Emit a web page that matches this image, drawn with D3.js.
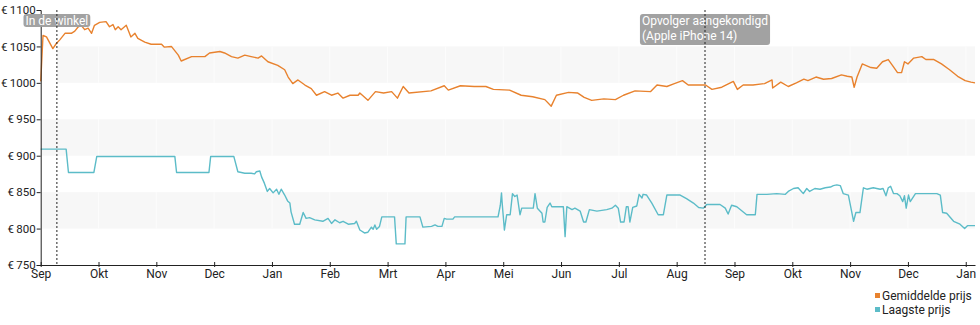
<!DOCTYPE html>
<html>
<head>
<meta charset="utf-8">
<script src="https://cdn.jsdelivr.net/npm/d3@7"></script>
<style>
  html, body { margin: 0; padding: 0; background: #fff; }
  svg { display: block; font-family: Roboto, "Noto Sans", sans-serif; }
</style>
</head>
<body>
<svg id="chart" width="980" height="325"></svg>
<script>
// Month tick labels (equally spaced month units)
const monthLabels = ["Sep","Okt","Nov","Dec","Jan","Feb","Mrt","Apr","Mei","Jun","Jul","Aug","Sep","Okt","Nov","Dec","Jan"];
const yTickValues = [750, 800, 850, 900, 950, 1000, 1050, 1100];
const bandRanges = [[1000, 1050], [900, 950], [800, 850]];

// Gemiddelde prijs: time in months since first Sep, value in euro
const avgT = [0.00,0.04,0.10,0.21,0.27,0.33,0.42,0.53,0.59,0.65,0.70,0.76,0.82,0.88,0.93,1.02,1.13,1.19,1.25,1.29,1.34,1.39,1.48,1.56,1.63,1.68,1.80,1.91,2.09,2.14,2.26,2.38,2.43,2.61,2.72,2.84,2.92,3.10,3.18,3.30,3.41,3.53,3.64,3.76,3.82,3.93,4.10,4.22,4.28,4.36,4.45,4.57,4.68,4.77,4.91,5.03,5.14,5.23,5.35,5.49,5.52,5.66,5.79,5.93,6.07,6.17,6.27,6.37,6.75,6.98,7.05,7.26,7.50,7.70,7.83,8.11,8.31,8.51,8.72,8.83,8.92,9.13,9.29,9.40,9.53,9.74,9.94,10.08,10.28,10.55,10.66,10.83,10.96,11.10,11.20,11.34,11.50,11.61,11.78,11.98,12.05,12.15,12.32,12.52,12.65,12.66,12.80,12.93,13.07,13.20,13.27,13.41,13.54,13.68,13.85,13.95,14.03,14.07,14.12,14.21,14.36,14.46,14.56,14.66,14.75,14.82,14.89,14.94,15.00,15.10,15.24,15.31,15.45,15.58,15.72,15.86,15.99,16.09,16.16];
const avgV = [1002,1065,1063,1047,1054,1059,1068,1068,1071,1077,1079,1073,1075,1068,1079,1083,1084,1077,1080,1073,1077,1073,1079,1063,1068,1061,1056,1053,1053,1049,1050,1038,1030,1036,1036,1036,1041,1043,1041,1036,1034,1038,1036,1034,1037,1029,1024,1018,1008,999,1004,997,992,983,988,983,986,979,983,983,986,976,988,986,988,979,995,986,989,996,990,996,995,995,991,990,983,981,977,968,983,987,986,980,976,978,977,983,989,988,997,995,999,1003,997,997,997,991,994,1002,991,997,997,999,1004,993,1001,995,1000,1005,1003,1008,1005,1006,1011,1009,1008,994,1008,1026,1021,1020,1029,1032,1022,1014,1014,1029,1026,1034,1036,1032,1032,1026,1018,1009,1003,1001,1000];

// Laagste prijs
const lowT = [0.00,0.44,0.48,0.92,0.97,2.32,2.35,2.91,2.94,3.34,3.41,3.53,3.64,3.70,3.73,3.79,3.82,3.87,3.92,3.96,4.02,4.08,4.12,4.16,4.22,4.27,4.31,4.33,4.39,4.48,4.54,4.59,4.65,4.74,4.88,4.97,5.03,5.09,5.17,5.23,5.32,5.43,5.46,5.52,5.60,5.66,5.72,5.75,5.78,5.81,5.86,5.90,6.12,6.15,6.30,6.32,6.56,6.61,6.76,6.82,6.87,6.94,6.98,7.02,7.13,7.16,7.91,7.95,7.97,7.98,8.02,8.06,8.12,8.16,8.20,8.24,8.29,8.32,8.52,8.55,8.59,8.67,8.69,8.72,8.76,8.81,8.84,9.04,9.07,9.10,9.19,9.24,9.33,9.39,9.43,9.49,9.62,9.79,9.88,9.94,9.99,10.03,10.09,10.13,10.16,10.19,10.24,10.31,10.35,10.40,10.42,10.48,10.57,10.68,10.77,10.83,11.06,11.17,11.29,11.38,11.46,11.52,11.75,11.84,11.89,11.95,12.04,12.21,12.36,12.39,12.56,12.73,12.88,12.93,13.02,13.10,13.19,13.25,13.30,13.39,13.48,13.57,13.66,13.71,13.77,13.83,13.88,13.97,14.06,14.10,14.17,14.23,14.29,14.40,14.52,14.57,14.62,14.66,14.70,14.75,14.81,14.86,14.91,14.94,14.97,15.01,15.04,15.13,15.50,15.56,15.60,15.67,15.79,15.90,15.98,16.03,16.16];
const lowV = [909,909,877,877,899,899,877,877,899,899,878,876,876,875,878,879,871,862,851,855,849,854,847,854,846,838,835,823,806,806,822,814,815,812,810,814,807,812,808,810,806,807,810,798,794,795,802,799,805,799,803,816,816,779,779,816,816,802,803,805,803,803,814,813,813,816,816,832,849,837,798,819,819,848,844,846,819,828,828,848,828,821,809,809,829,835,830,830,789,830,826,828,824,809,809,826,824,826,828,832,828,809,809,830,830,809,829,831,847,842,847,846,835,819,819,846,846,841,835,829,828,833,833,828,820,832,830,819,819,847,847,848,847,851,855,856,848,855,851,855,854,856,857,859,860,859,848,846,810,822,822,856,854,856,854,855,845,856,858,848,848,845,837,845,828,846,837,848,848,846,822,821,810,806,800,804,804];

const eventT = [0.28, 11.49];
const eventLabels = [["In de winkel"], ["Opvolger aangekondigd", "(Apple iPhone 14)"]];

const seriesNames = ["Gemiddelde prijs", "Laagste prijs"];
const seriesColors = ["#e8822e", "#5cbcc8"];

const svg = d3.select("#chart");
const plotL = 40.7, plotR = 975, plotT = 10, plotB = 265;

const x = d3.scaleLinear().domain([0, 16.16]).range([plotL, plotR]);
const y = d3.scaleLinear().domain([750, 1100]).range([plotB, plotT]);

// bands (the top band begins at the "in de winkel" marker, as in the reference)
const bandG = svg.append("g");
bandRanges.forEach(([a, b], k) => {
  const x0 = k === 0 ? x(eventT[0]) : plotL;
  bandG.append("rect")
    .attr("x", x0).attr("width", plotR - x0)
    .attr("y", y(b)).attr("height", y(a) - y(b))
    .attr("fill", "#f7f7f7");
});
// faint month separators inside bands
bandRanges.forEach(([a, b]) => {
  bandG.selectAll(null).data(d3.range(1, 17)).enter().append("line")
    .attr("x1", d => x(d)).attr("x2", d => x(d))
    .attr("y1", y(b)).attr("y2", y(a))
    .attr("stroke", "#fcfcfc").attr("stroke-width", 1);
});

// lines
const lineFor = (ts, vs) => d3.line().x((d, i) => x(ts[i])).y(d => y(d))(vs);
svg.append("path").attr("d", lineFor(lowT, lowV))
  .attr("fill", "none").attr("stroke", seriesColors[1]).attr("stroke-width", 1.4)
  .attr("stroke-linejoin", "round");
svg.append("path").attr("d", lineFor(avgT, avgV))
  .attr("fill", "none").attr("stroke", seriesColors[0]).attr("stroke-width", 1.4)
  .attr("stroke-linejoin", "round");

// y axis
const yAxis = d3.axisLeft(y).tickValues(yTickValues).tickSize(4).tickPadding(1)
  .tickFormat(d => "€\u2009" + d);
const yg = svg.append("g").attr("transform", `translate(${plotL},0)`).call(yAxis);
yg.select(".domain").attr("stroke", "#222");
yg.selectAll(".tick line").attr("stroke", "#222");
yg.selectAll("text").attr("font-size", 11.5).attr("fill", "#222").attr("font-family", "Roboto");

// x axis
const xAxis = d3.axisBottom(x).tickValues(d3.range(0, 17)).tickSizeInner(3).tickSizeOuter(0).tickPadding(3)
  .tickFormat(i => monthLabels[i]);
const xg = svg.append("g").attr("transform", `translate(0,${plotB})`).call(xAxis);
xg.select(".domain").attr("stroke", "#222");
xg.selectAll(".tick line").attr("stroke", "#222").attr("y1", -3).attr("y2", 2);
xg.selectAll("text").attr("font-size", 12).attr("fill", "#222").attr("font-family", "Roboto").attr("dy", "0.55em");

// event markers
eventT.forEach((t, k) => {
  const cx = x(t);
  const lines = eventLabels[k];
  const g = svg.append("g");
  const txt = g.append("text").attr("font-size", 12).attr("fill", "#fff").attr("font-family", "Roboto");
  lines.forEach((s, j) => {
    txt.append("tspan").attr("x", 0).attr("y", 10.5 + j * 15.5).text(s);
  });
  const bb = txt.node().getBBox();
  const w = bb.width + 4, h = lines.length * 15.5 + (lines.length === 1 ? -2.5 : 0);
  g.insert("rect", "text")
    .attr("x", -2).attr("y", 0).attr("width", w).attr("height", h)
    .attr("rx", 3).attr("fill", "#9d9d9d").attr("fill-opacity", 0.95);
  g.attr("transform", `translate(${cx - w / 2 + 2},14)`);
  svg.append("line")
    .attr("x1", cx).attr("x2", cx).attr("y1", plotT).attr("y2", plotB)
    .attr("stroke", "#222").attr("stroke-width", 1).attr("stroke-dasharray", "2,2");
});

// legend
const lg = svg.append("g").attr("transform", "translate(875,0)");
seriesNames.forEach((name, i) => {
  lg.append("rect").attr("x", 0).attr("y", 293 + i * 14).attr("width", 5).attr("height", 5)
    .attr("fill", seriesColors[i]);
  lg.append("text").attr("x", 7).attr("y", 300 + i * 14).attr("font-size", 12)
    .attr("fill", "#222").attr("font-family", "Roboto").text(name);
});
</script>
</body>
</html>
